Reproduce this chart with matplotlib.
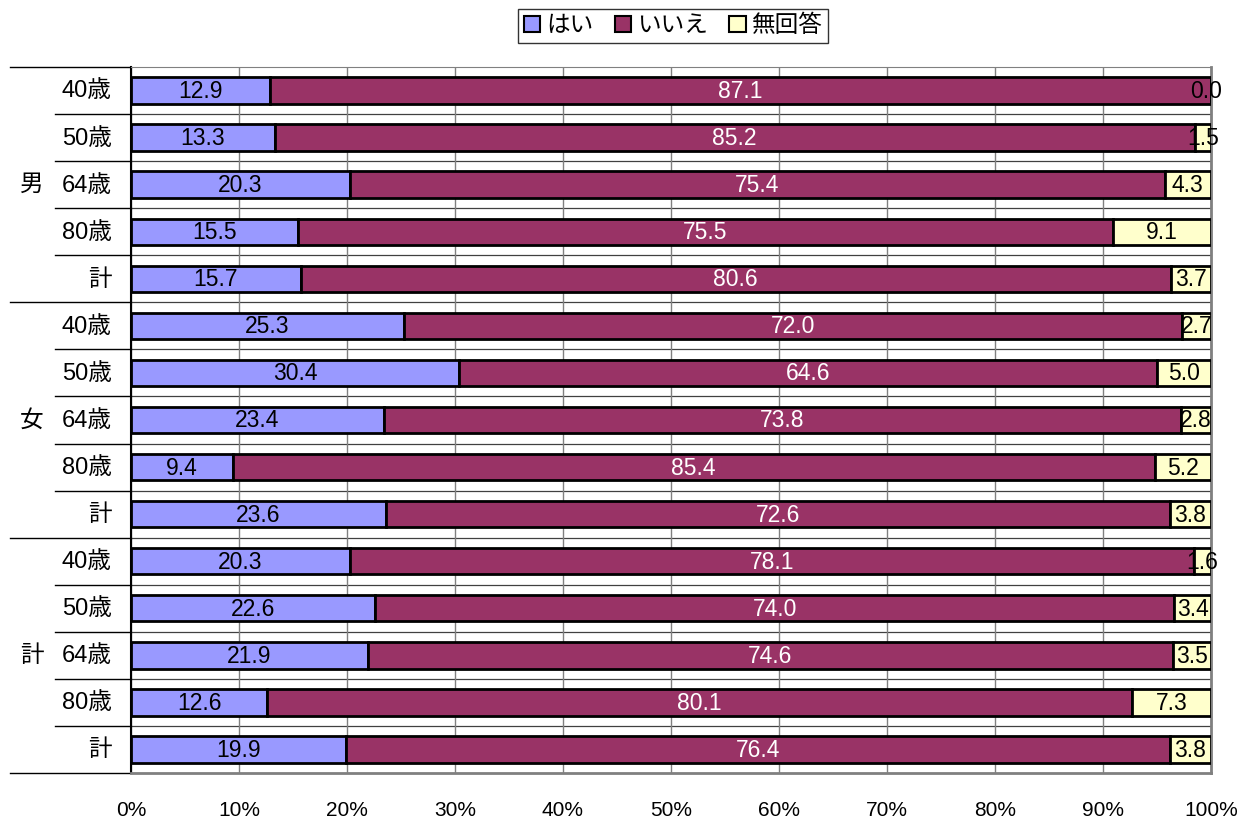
import matplotlib
matplotlib.use("Agg")
import matplotlib.pyplot as plt
import numpy as np
from matplotlib.lines import Line2D

plt.rcParams['font.family'] = ['Liberation Sans', 'Noto Sans CJK JP', 'DejaVu Sans']

groups = ['男', '女', '計']
ages = ['40歳', '50歳', '64歳', '80歳', '計']
series_names = ['はい', 'いいえ', '無回答']
colors = ['#9999FF', '#993366', '#FFFFCC']
text_colors = ['black', 'white', 'black']

hai = [12.9, 13.3, 20.3, 15.5, 15.7,
       25.3, 30.4, 23.4, 9.4, 23.6,
       20.3, 22.6, 21.9, 12.6, 19.9]
iie = [87.1, 85.2, 75.4, 75.5, 80.6,
       72.0, 64.6, 73.8, 85.4, 72.6,
       78.1, 74.0, 74.6, 80.1, 76.4]
mukaitou = [0.0, 1.5, 4.3, 9.1, 3.7,
            2.7, 5.0, 2.8, 5.2, 3.8,
            1.6, 3.4, 3.5, 7.3, 3.8]

data = np.array([hai, iie, mukaitou])
totals = data.sum(axis=0)
pct = data / totals * 100

n = data.shape[1]
y = np.arange(n)

fig = plt.figure(figsize=(12.47, 8.21), dpi=100)
ax = fig.add_axes([131/1247, 1-773/821, (1211-131)/1247, (773-67)/821])

left = np.zeros(n)
for i in range(3):
    ax.barh(y, pct[i], left=left, height=0.56, color=colors[i],
            edgecolor='black', linewidth=2, zorder=3, label=series_names[i])
    for j in range(n):
        xc = left[j] + pct[i][j] / 2
        if pct[i][j] == 0:
            xc -= 0.5
        ax.text(xc, y[j] + 0.02, f"{data[i][j]:.1f}", ha='center', va='center',
                fontsize=16.5, color=text_colors[i], zorder=4)
    left += pct[i]

ax.set_xlim(0, 100)
ax.set_ylim(n - 0.5, -0.5)
ax.set_xticks(np.arange(0, 101, 10))
ax.set_xticklabels([f"{v}%" for v in range(0, 101, 10)], fontsize=15)
ax.tick_params(axis='x', length=0, pad=20)
ax.set_yticks([])
ax.grid(axis='x', color='#808080', linewidth=1, zorder=0)
for b in np.arange(0.5, n - 0.5, 1):
    ax.axhline(b, color='#404040', linewidth=0.9, zorder=1)
ax.spines['top'].set_color('#808080')
for s in ['right', 'bottom']:
    ax.spines[s].set_color('#808080')
    ax.spines[s].set_linewidth(2)
ax.spines['left'].set_color('black')
ax.spines['left'].set_linewidth(1.5)

# left labels
for j in range(n):
    ax.text(-1.8, y[j] + 0.02, ages[j % 5], ha='right', va='center', fontsize=17)
for g, name in enumerate(groups):
    ax.text(-9.2, g * 5 + 2, name, ha='center', va='center', fontsize=17,
            family=['Noto Sans CJK JP'])

# separator lines in left label area
x_long = (10 - 131) / (1211 - 131) * 100
x_short = (55 - 131) / (1211 - 131) * 100
for b in np.arange(-0.5, n + 0.5, 1):
    k = int(b + 0.5)
    xs = x_long if k % 5 == 0 else x_short
    ax.add_line(Line2D([xs, 0], [b, b], color='black', linewidth=1, clip_on=False))

handles = [plt.Rectangle((0, 0), 1, 1, facecolor=c, edgecolor='black', linewidth=1.5) for c in colors]
leg = fig.legend(handles, series_names, loc='center', bbox_to_anchor=(673/1247, 1-26/821),
                 ncol=3, frameon=True, fancybox=False, edgecolor='black',
                 prop={'family': ['Noto Sans CJK JP'], 'size': 17},
                 handlelength=0.7, handleheight=0.7, handletextpad=0.25, columnspacing=0.9,
                 borderpad=0.25, borderaxespad=0)
leg.get_frame().set_linewidth(1)

fig.savefig('out.png', dpi=100)
